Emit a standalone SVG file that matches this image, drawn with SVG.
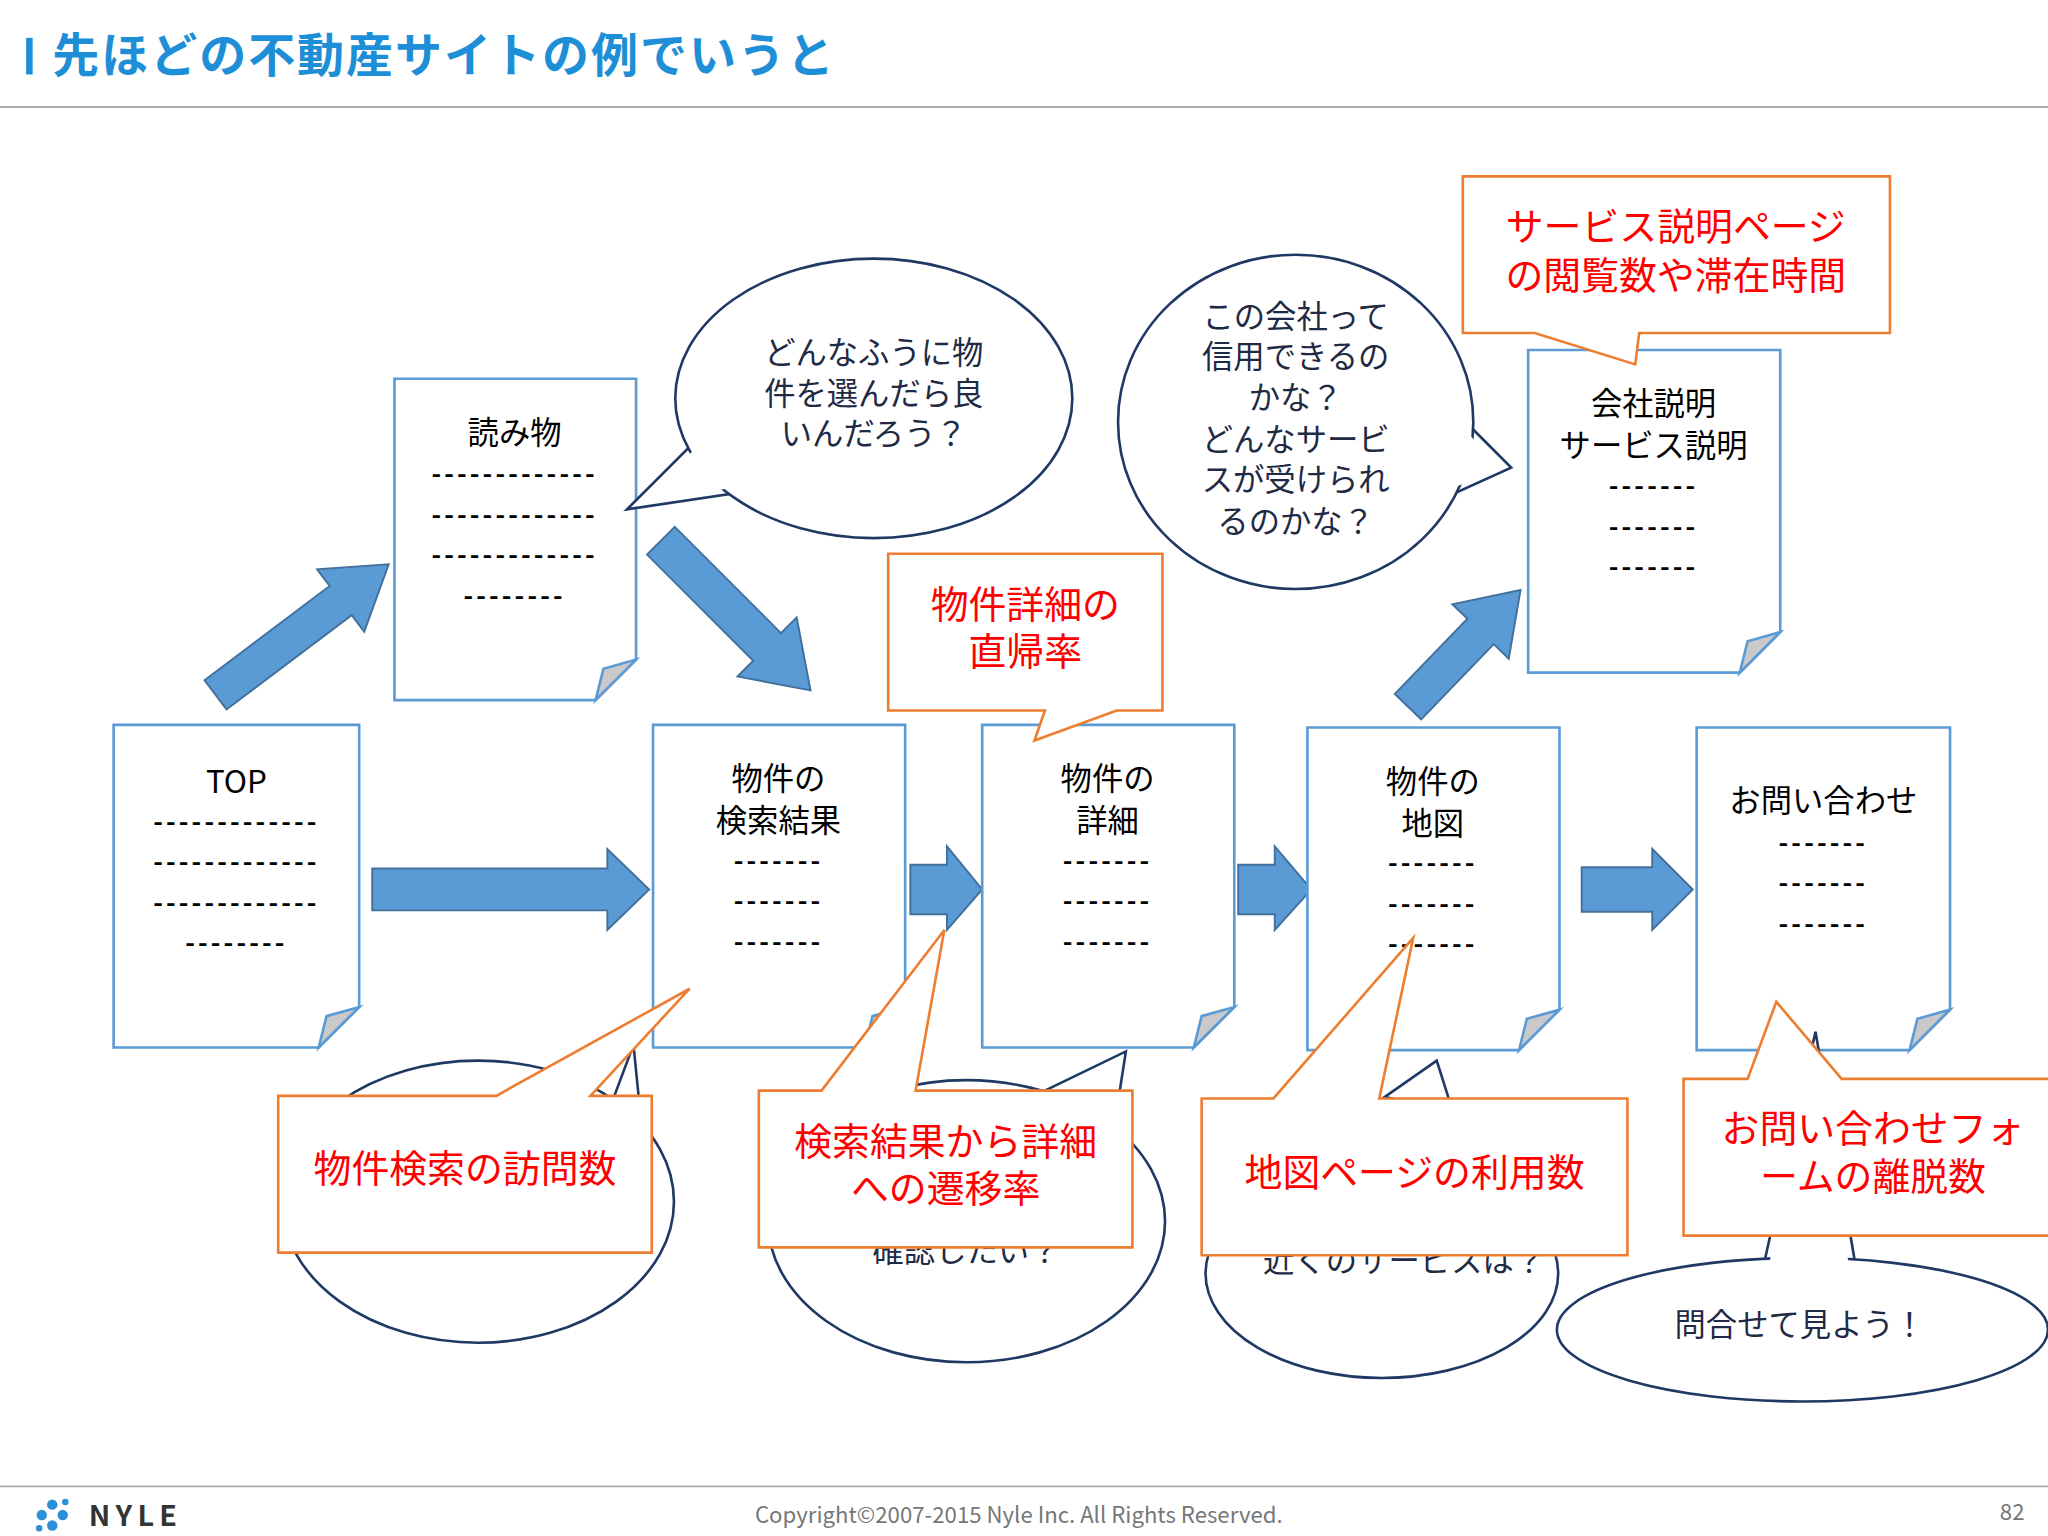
<svg xmlns="http://www.w3.org/2000/svg" width="2048" height="1536" viewBox="0 0 2048 1536">
<style>
text{font-family:"Noto Sans CJK JP","Noto Sans",sans-serif}
.doc{fill:#fff;stroke:#5b9bd5;stroke-width:2}
.fold{fill:#c9c9c9;stroke:#5b9bd5;stroke-width:2}
.dt{font-size:24px;fill:#000;text-anchor:middle}
.dash{font-size:20px;fill:#000;text-anchor:middle;font-weight:bold;letter-spacing:2.4px}
.arr{fill:#5b9bd5;stroke:#41719c;stroke-width:1.5}
.bub{fill:#fff;stroke:#1f3864;stroke-width:2}
.bubf{fill:#fff;stroke:none}
.bt{font-size:24px;fill:#1f2a44;text-anchor:middle}
.co{fill:#fff;stroke:#ed7d31;stroke-width:2}
.ct{font-size:29px;fill:#ff0000;text-anchor:middle}
</style>
<rect width="2048" height="1536" fill="#fff"/>
<g transform="scale(1.30612)">
<g id="title">
<rect x="20" y="29" width="5" height="28" fill="#1e8fd6"/>
<text x="40" y="55" font-size="36" font-weight="bold" fill="#1e8fd6" letter-spacing="1.5">先ほどの不動産サイトの例でいうと</text>
<line x1="0" y1="82" x2="1568" y2="82" stroke="#aaa" stroke-width="1.5"/>
</g>
<g id="footer">
<line x1="0" y1="1138" x2="1568" y2="1138" stroke="#aaa" stroke-width="1.5"/>
<g fill="#2a8fd6"><circle cx="40" cy="1152" r="4"/><circle cx="48" cy="1160" r="4"/><circle cx="40" cy="1168" r="4"/><circle cx="32" cy="1160" r="4"/><circle cx="50" cy="1150" r="2.5"/><circle cx="30" cy="1170" r="2.5"/></g>
<text x="68" y="1168" font-size="22" font-weight="bold" fill="#333" letter-spacing="4">NYLE</text>
<text x="780" y="1166" font-size="17" fill="#777" text-anchor="middle">Copyright©2007-2015 Nyle Inc. All Rights Reserved.</text>
<text x="1550" y="1164" font-size="17" fill="#777" text-anchor="end">82</text>
</g>
<g id="connectors">
<polygon class="arr" points="285,665 465,665 465,650 497,681 465,712 465,697 285,697"/>
<polygon class="arr" points="697,662 725,662 725,648 752,681 725,712 725,700 697,700"/>
<polygon class="arr" points="948,662 976,662 976,648 1004,681 976,712 976,700 948,700"/>
<polygon class="arr" points="1211,664 1265,664 1265,650 1296,681 1265,712 1265,698 1211,698"/>
<g transform="translate(165,532) rotate(-37)"><polygon class="arr" points="0,-14 120,-14 120,-30 166,0 120,30 120,14 0,14"/></g>
<g transform="translate(506,414) rotate(45)"><polygon class="arr" points="0,-15 115,-15 115,-32 162,0 115,32 115,15 0,15"/></g>
<g transform="translate(1078,541) rotate(-46)"><polygon class="arr" points="0,-14 80,-14 80,-30 124,0 80,30 80,14 0,14"/></g>
</g>
<g id="doc-yomimono"><path class="doc" d="M302,290H487V505L456,536H302Z"/><path class="fold" d="M487,505L456,536L462,512Z"/>
<text class="dt" x="394" y="340">読み物</text><text class="dash" x="394" y="370">-------------</text><text class="dash" x="394" y="401">-------------</text><text class="dash" x="394" y="432">-------------</text><text class="dash" x="394" y="463">--------</text></g>
<g id="doc-top"><path class="doc" d="M87,555H275V771L244,802H87Z"/><path class="fold" d="M275,771L244,802L250,778Z"/>
<text class="dt" x="181" y="607">TOP</text><text class="dash" x="181" y="636">-------------</text><text class="dash" x="181" y="667">-------------</text><text class="dash" x="181" y="698">-------------</text><text class="dash" x="181" y="729">--------</text></g>
<g id="doc-search"><path class="doc" d="M500,555H693V771L662,802H500Z"/><path class="fold" d="M693,771L662,802L668,778Z"/>
<text class="dt" x="596" y="605">物件の</text><text class="dt" x="596" y="637">検索結果</text><text class="dash" x="596" y="666">-------</text><text class="dash" x="596" y="697">-------</text><text class="dash" x="596" y="728">-------</text></g>
<g id="doc-detail"><path class="doc" d="M752,555H945V771L914,802H752Z"/><path class="fold" d="M945,771L914,802L920,778Z"/>
<text class="dt" x="848" y="605">物件の</text><text class="dt" x="848" y="637">詳細</text><text class="dash" x="848" y="666">-------</text><text class="dash" x="848" y="697">-------</text><text class="dash" x="848" y="728">-------</text></g>
<g id="doc-map"><path class="doc" d="M1001,557H1194V773L1163,804H1001Z"/><path class="fold" d="M1194,773L1163,804L1169,780Z"/>
<text class="dt" x="1097" y="607">物件の</text><text class="dt" x="1097" y="639">地図</text><text class="dash" x="1097" y="668">-------</text><text class="dash" x="1097" y="699">-------</text><text class="dash" x="1097" y="730">-------</text></g>
<g id="doc-contact"><path class="doc" d="M1299,557H1493V773L1462,804H1299Z"/><path class="fold" d="M1493,773L1462,804L1468,780Z"/>
<text class="dt" x="1396" y="622">お問い合わせ</text><text class="dash" x="1396" y="652">-------</text><text class="dash" x="1396" y="683">-------</text><text class="dash" x="1396" y="714">-------</text></g>
<g id="doc-company"><path class="doc" d="M1170,268H1363V484L1332,515H1170Z"/><path class="fold" d="M1363,484L1332,515L1338,491Z"/>
<text class="dt" x="1266" y="318">会社説明</text><text class="dt" x="1266" y="350">サービス説明</text><text class="dash" x="1266" y="379">-------</text><text class="dash" x="1266" y="410">-------</text><text class="dash" x="1266" y="441">-------</text></g>
<g id="bubble-1"><polygon class="bub" points="530,340 480,390 560,378"/><ellipse class="bub" cx="669" cy="305" rx="152" ry="107"/><polygon class="bubf" points="533,343 487,386 557,374 560,360"/>
<text class="bt" x="669" y="279">どんなふうに物</text><text class="bt" x="669" y="310">件を選んだら良</text><text class="bt" x="669" y="341">いんだろう？</text></g>
<g id="bubble-2"><polygon class="bub" points="1125,326 1157,358 1113,378"/><ellipse class="bub" cx="992" cy="323" rx="136" ry="128"/><polygon class="bubf" points="1122,330 1150,358 1114,373 1118,345"/>
<text class="bt" x="992" y="251">この会社って</text><text class="bt" x="992" y="282">信用できるの</text><text class="bt" x="992" y="313">かな？</text><text class="bt" x="992" y="345">どんなサービ</text><text class="bt" x="992" y="376">スが受けられ</text><text class="bt" x="992" y="408">るのかな？</text></g>
<g id="bubble-3"><polygon class="bub" points="470,840 485,800 490,850"/><ellipse class="bub" cx="366" cy="920" rx="150" ry="108"/></g>
<g id="bubble-4"><polygon class="bub" points="800,835 862,805 855,850"/><ellipse class="bub" cx="740" cy="935" rx="152" ry="108"/><polygon class="bubf" points="805,838 858,810 852,852"/>
<text class="bt" x="740" y="966">確認したい？</text></g>
<g id="bubble-5"><polygon class="bub" points="1060,840 1100,812 1112,850"/><ellipse class="bub" cx="1058" cy="975" rx="135" ry="80"/><polygon class="bubf" points="1065,842 1098,818 1108,855"/>
<text class="bt" x="1075" y="974">近くのサービスは？</text></g>
<g id="bubble-6"><polygon class="bub" points="1350,970 1390,790 1420,965"/><ellipse class="bub" cx="1380" cy="1018" rx="188" ry="55"/><polygon class="bubf" points="1353,975 1390,800 1416,972"/>
<text class="bt" x="1378" y="1023">問合せて見よう！</text></g>
<g id="callout-a"><path class="co" d="M213,839H380L528,757L452,839H499V959H213Z"/><text class="ct" x="356" y="905">物件検索の訪問数</text></g>
<g id="callout-b"><path class="co" d="M581,835H629L723,712L701,835H867V955H581Z"/><text class="ct" x="724" y="884">検索結果から詳細</text><text class="ct" x="724" y="920">への遷移率</text></g>
<g id="callout-c"><path class="co" d="M920,841H975L1082,718L1056,841H1246V961H920Z"/><text class="ct" x="1083" y="908">地図ページの利用数</text></g>
<g id="callout-d"><path class="co" d="M1289,826H1338L1360,767L1410,826H1580V946H1289Z"/><text class="ct" x="1434" y="874">お問い合わせフォ</text><text class="ct" x="1434" y="911">ームの離脱数</text></g>
<g id="callout-e"><path class="co" d="M680,424H890V544H855L792,567L800,544H680Z"/><text class="ct" x="785" y="473">物件詳細の</text><text class="ct" x="785" y="509">直帰率</text></g>
<g id="callout-f"><path class="co" d="M1120,135H1447V255H1255L1252,279L1175,255H1120Z"/><text class="ct" x="1283" y="184">サービス説明ページ</text><text class="ct" x="1283" y="221">の閲覧数や滞在時間</text></g>
</g>
</svg>
